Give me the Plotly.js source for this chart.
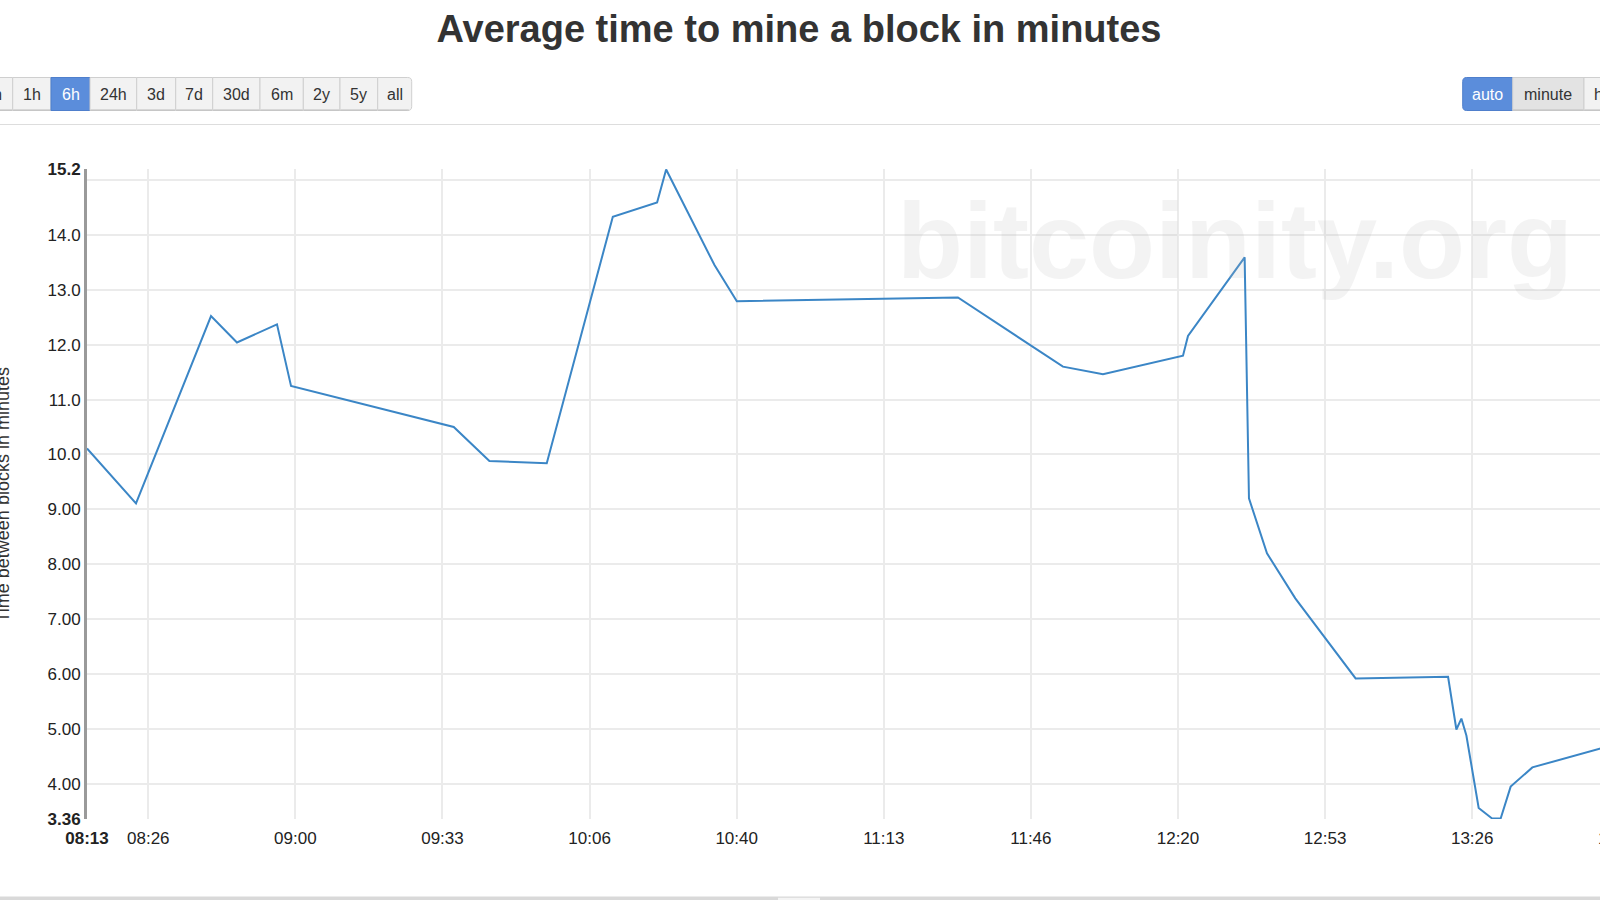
<!DOCTYPE html>
<html>
<head>
<meta charset="utf-8">
<script src="https://cdn.plot.ly/plotly-3.0.1.min.js"></script>
<style>
  html, body { margin:0; padding:0; background:#fff; overflow:hidden; width:1600px; height:900px; }
  #chart { position:absolute; left:-60px; top:0; width:1720px; height:900px; }
</style>
</head>
<body>
<div id="chart"></div>
<script>
// ---------------- DATA ----------------
const day = '2016-06-17';
const times = ['08:12:47','08:23:53','08:40:53','08:46:46','08:55:50','08:59:01','09:35:53','09:43:58','09:56:58',
  '10:11:56','10:21:58','10:24:01','10:34:58','10:40:02','11:30:08','11:53:56','12:03:00','12:21:08','12:22:16',
  '12:35:06','12:36:05','12:40:10','12:46:35','13:00:15','13:21:12','13:23:05','13:24:13','13:25:21','13:28:08',
  '13:31:10','13:33:07','13:35:23','13:40:18','14:07:11'];
const minutesPerBlock = [10.11,9.11,12.52,12.04,12.37,11.25,10.50,9.88,9.84,
  14.33,14.59,15.19,13.45,12.79,12.86,11.60,11.46,11.80,12.16,
  13.59,9.20,8.20,7.38,5.92,5.95,4.99,5.19,4.88,3.56,
  3.37,3.37,3.95,4.30,4.90];

const xTickTimes = ['08:12:47','08:26:40','09:00:00','09:33:20','10:06:40','10:40:00','11:13:20','11:46:40','12:20:00','12:53:20','13:26:40','14:00:00'];
const xTickLabels = ['<b>08:13</b>','08:26','09:00','09:33','10:06','10:40','11:13','11:46','12:20','12:53','13:26','14:00'];
const xGridTimes = ['08:26:40','09:00:00','09:33:20','10:06:40','10:40:00','11:13:20','11:46:40','12:20:00','12:53:20','13:26:40','14:00:00'];

const yTickVals = [3.36,4,5,6,7,8,9,10,11,12,13,14,15.2];
const yTickLabels = ['<b>3.36</b>','4.00','5.00','6.00','7.00','8.00','9.00','10.0','11.0','12.0','13.0','14.0','<b>15.2</b>'];
const yGridVals = [4,5,6,7,8,9,10,11,12,13,14,15];
const yRange = [3.36, 15.2];
const xRangeTimes = ['08:12:47','14:07:11'];

const rangeButtons = ['30m','1h','6h','24h','3d','7d','30d','6m','2y','5y','all'];
const rangeActive = '6h';
const unitButtons = ['auto','minute','hour'];
const unitActive = 'auto';

const titleText = 'Average time to mine a block in minutes';
const yTitleText = 'Time between blocks in minutes';
const watermarkText = 'bitcoinity.org';

// ---------------- LAYOUT GEOMETRY ----------------
const OX = 60;               // page offset of the chart div
const W = 1720, H = 900;
const M = {l:147, r:9, t:169, b:81};
const PW = W - M.l - M.r, PH = H - M.t - M.b;
const px = sx => (sx + OX - M.l) / PW;   // screen x -> paper
const py = sy => (H - M.b - sy) / PH;     // screen y -> paper
const FONT = 'Liberation Sans, Arial, Helvetica, sans-serif';

const shapes = [];
const annotations = [];

function rr(x0, x1, y0, y1, rl, rr_) {
  const P = (x, y) => px(x).toFixed(6) + ',' + py(y).toFixed(6);
  let d = 'M ' + P(x0 + rl, y0) + ' L ' + P(x1 - rr_, y0);
  if (rr_) d += ' Q ' + P(x1, y0) + ' ' + P(x1, y0 + rr_);
  d += ' L ' + P(x1, y1 - rr_);
  if (rr_) d += ' Q ' + P(x1, y1) + ' ' + P(x1 - rr_, y1);
  d += ' L ' + P(x0 + rl, y1);
  if (rl) d += ' Q ' + P(x0, y1) + ' ' + P(x0, y1 - rl);
  d += ' L ' + P(x0, y0 + rl);
  if (rl) d += ' Q ' + P(x0, y0) + ' ' + P(x0 + rl, y0);
  return d + ' Z';
}

function buttonGroup(labels, active, edges, y0, y1, pressed) {
  labels.forEach((lab, i) => {
    const x0 = edges[i], x1 = edges[i + 1];
    const first = i === 0, last = i === labels.length - 1;
    const isActive = lab === active;
    const fill = isActive ? '#5b8ddb' : (lab === pressed ? '#e3e3e3' : '#f2f2f2');
    shapes.push({type:'path', xref:'paper', yref:'paper', path: rr(x0, x1, y0, y1, first ? 4 : 0, last ? 4 : 0),
      fillcolor: fill, line:{color: isActive ? '#4f7fcc' : '#cfcfcf', width:1}, layer:'above'});
    if (!isActive) shapes.push({type:'line', xref:'paper', yref:'paper', x0:px(x0 + (first?3:0.5)), x1:px(x1 - (last?3:0.5)),
      y0:py(y1 - 0.5), y1:py(y1 - 0.5), line:{color:'#bdbdbd', width:1}, layer:'above'});
    annotations.push({xref:'paper', yref:'paper', x:px((x0 + x1) / 2), y:py((y0 + y1) / 2 + 1),
      xanchor:'center', yanchor:'middle', showarrow:false, text: lab,
      font:{family:FONT, size:16, color: isActive ? '#ffffff' : '#333333'}});
  });
}

buttonGroup(rangeButtons, rangeActive, [-40, 12.7, 51, 90, 136.7, 175.7, 212.7, 260, 303.3, 340, 377.7, 411.7], 77.5, 110.5, null);
buttonGroup(unitButtons, unitActive, [1462.7, 1512.7, 1584, 1636], 77.5, 110.5, 'minute');

// separator under the toolbar
shapes.push({type:'line', xref:'paper', yref:'paper', x0:px(-OX), x1:px(W - OX), y0:py(124.5), y1:py(124.5),
  line:{color:'#dddddd', width:1}});
// bottom strip
shapes.push({type:'rect', xref:'paper', yref:'paper', x0:px(-OX), x1:px(W - OX), y0:py(896.5), y1:py(900),
  fillcolor:'#d9d9d9', line:{width:0}});
shapes.push({type:'rect', xref:'paper', yref:'paper', x0:px(778), x1:px(820), y0:py(897.8), y1:py(900),
  fillcolor:'#f4f4f4', line:{width:0}});

// watermark
annotations.push({xref:'paper', yref:'paper', x:px(1234.5), y:py(240), xanchor:'center', yanchor:'middle',
  showarrow:false, text:'<b>' + watermarkText + '</b>', opacity:0.17,
  font:{family:FONT, size:108, color:'#bbbbbb'}});
// y axis title (partly off page, as in the reference)
annotations.push({xref:'paper', yref:'paper', x:px(2.5), y:py(495), xanchor:'center', yanchor:'middle',
  showarrow:false, textangle:-90, text: yTitleText, font:{family:FONT, size:18, color:'#333333'}});

const full = t => day + ' ' + t;

const trace = {
  type:'scatter', mode:'lines',
  x: times.map(full), y: minutesPerBlock,
  line:{color:'#3b86c6', width:2},
  hoverinfo:'x+y'
};

const layout = {
  width: W, height: H, autosize:false,
  margin: {l:M.l, r:M.r, t:M.t, b:M.b, pad:0},
  paper_bgcolor:'#ffffff', plot_bgcolor:'#ffffff',
  showlegend:false,
  title: {text:'<b>' + titleText + '</b>', x:(799 + OX) / W, xref:'container', xanchor:'center',
    y: 1 - 29 / H, yref:'container', yanchor:'middle',
    font:{family:FONT, size:38, color:'#333333'}},
  xaxis: {
    type:'date', range: xRangeTimes.map(full), fixedrange:true,
    tickmode:'array', tickvals: xTickTimes.map(full), ticktext: xTickLabels,
    showgrid:false, zeroline:false, showline:false, ticks:'', ticklabelstandoff:7,
    tickfont:{family:FONT, size:17, color:'#222222'},
    minor:{tickmode:'array', tickvals: xGridTimes.map(full), showgrid:true, gridcolor:'#ebebeb', gridwidth:2, ticks:''}
  },
  yaxis: {
    range: yRange, fixedrange:true,
    tickmode:'array', tickvals: yTickVals, ticktext: yTickLabels,
    showgrid:false, zeroline:false, showline:true, linecolor:'#9a9a9a', linewidth:3, ticks:'',
    tickfont:{family:FONT, size:17, color:'#222222'},
    minor:{tickmode:'array', tickvals: yGridVals, showgrid:true, gridcolor:'#ebebeb', gridwidth:2, ticks:''}
  },
  shapes: shapes,
  annotations: annotations
};

Plotly.newPlot('chart', [trace], layout, {displayModeBar:false});
</script>
</body>
</html>
